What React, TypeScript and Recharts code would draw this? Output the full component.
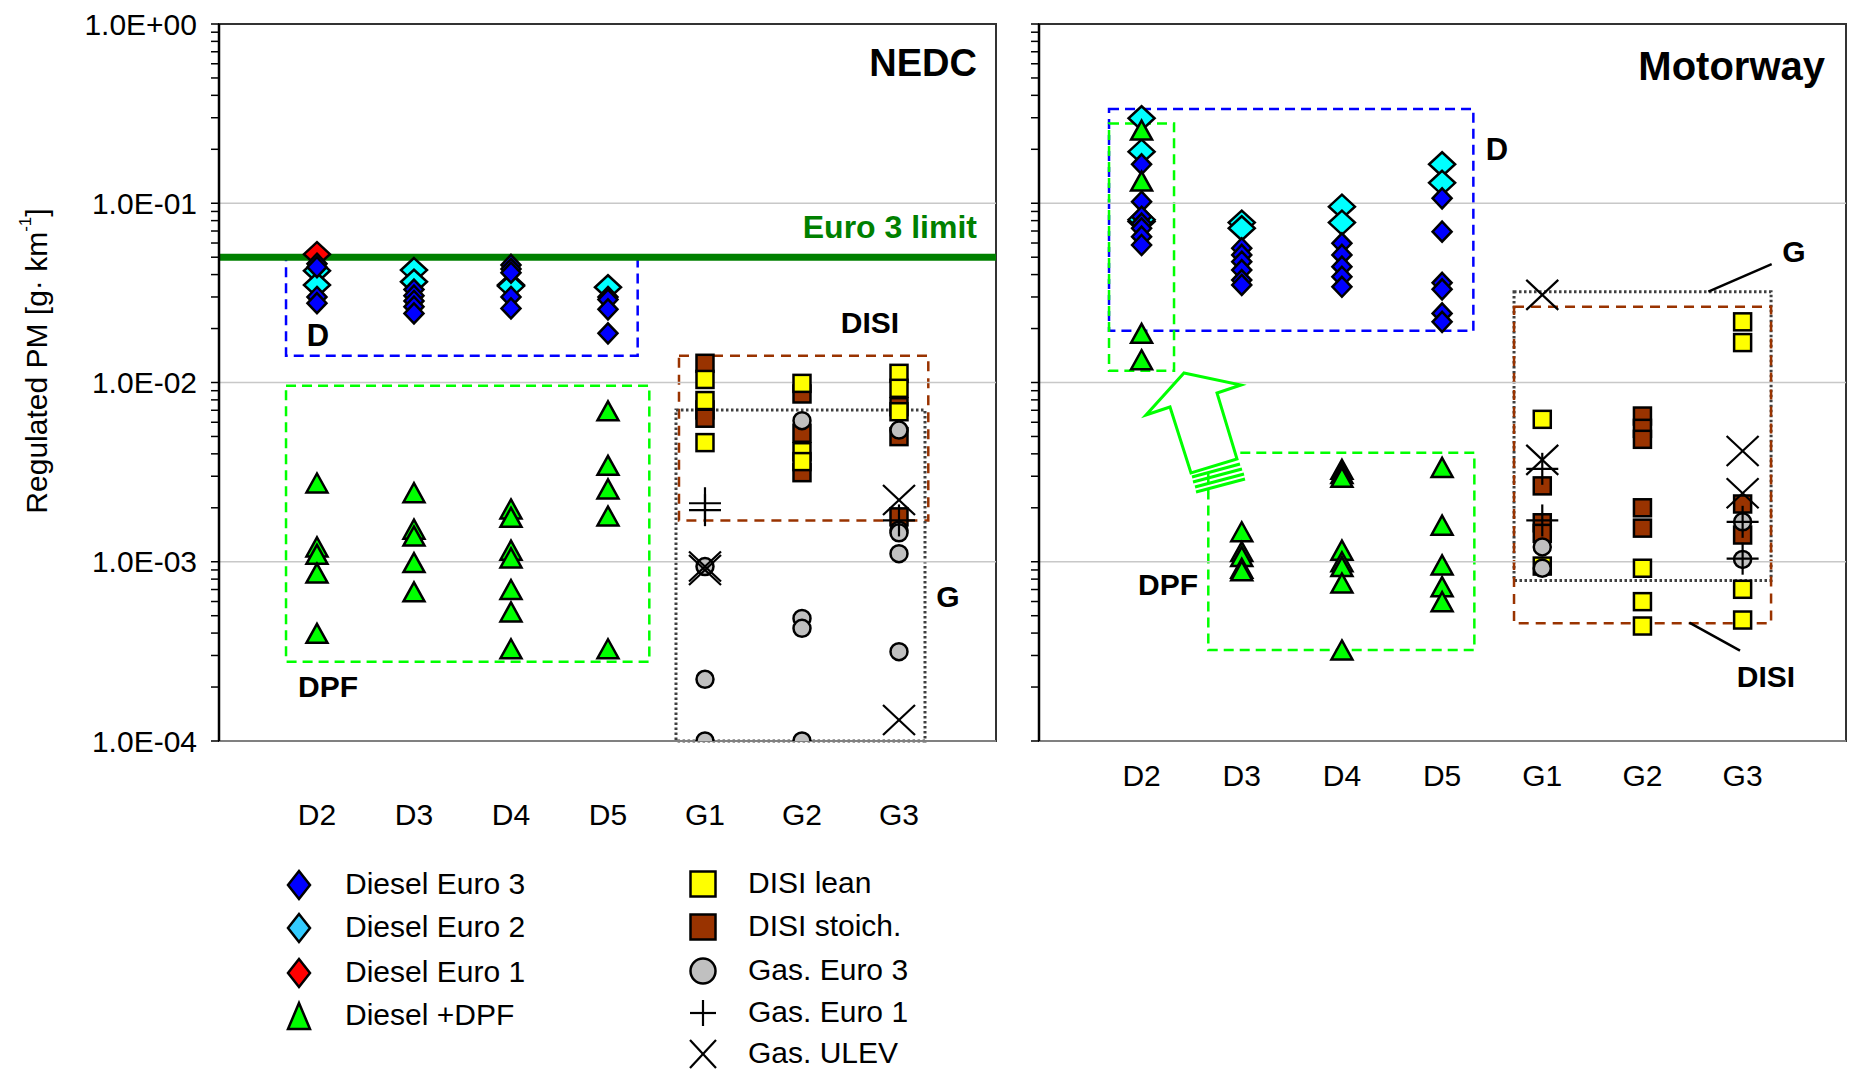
import React from 'react'
import { ScatterChart, Scatter, XAxis, YAxis, ReferenceArea, ReferenceLine } from 'recharts'

const FONT = "'Liberation Sans', Arial, Helvetica, sans-serif"

const categories = ['D2', 'D3', 'D4', 'D5', 'G1', 'G2', 'G3']
const decades = [1e-4, 1e-3, 1e-2, 1e-1, 1]
const decadeLabels = ['1.0E-04', '1.0E-03', '1.0E-02', '1.0E-01', '1.0E+00']
const euro3Limit = 0.05

type Series = Record<string, number[]>

// ---- NEDC ----
const nedcDieselEuro1: Series = { D2: [0.052] }
const nedcDieselEuro2: Series = {
  D2: [0.042, 0.035],
  D3: [0.0424, 0.0365],
  D4: [0.035, 0.0345],
  D5: [0.034],
}
const nedcDieselEuro3: Series = {
  D2: [0.046, 0.044, 0.03, 0.0277],
  D3: [0.033, 0.0305, 0.0285, 0.0265, 0.0243],
  D4: [0.0453, 0.043, 0.041, 0.03, 0.0259],
  D5: [0.03, 0.029, 0.0256, 0.0188],
}
const nedcDieselDpf: Series = {
  D2: [0.00275, 0.00121, 0.0011, 0.000865, 0.000399],
  D3: [0.00243, 0.00152, 0.00139, 0.00099, 0.00068],
  D4: [0.00197, 0.00177, 0.00116, 0.00105, 0.0007, 0.000525, 0.000327],
  D5: [0.00695, 0.00345, 0.00255, 0.0018, 0.000327],
}
const nedcDisiLean: Series = {
  G1: [0.0104, 0.00793, 0.00462],
  G2: [0.00989, 0.00411, 0.00362],
  G3: [0.01125, 0.00928, 0.00687],
}
const nedcDisiStoich: Series = {
  G1: [0.0128, 0.00703, 0.00632],
  G2: [0.00863, 0.00521, 0.00314],
  G3: [0.00733, 0.00499, 0.00178],
}
const nedcGasEuro3: Series = {
  G1: [0.00094, 0.000221, 0.0001],
  G2: [0.00612, 0.000483, 0.000425, 0.0001],
  G3: [0.00543, 0.0015, 0.00145, 0.00111, 0.000315],
}
const nedcGasEuro1: Series = { G1: [0.00212, 0.00194], G3: [0.0017] }
const nedcGasUlev: Series = { G1: [0.00094, 0.0009], G3: [0.00221, 0.000131] }

// ---- Motorway ----
const mwDieselEuro1: Series = { D2: [0.079] }
const mwDieselEuro2: Series = {
  D2: [0.298, 0.194, 0.081],
  D3: [0.078, 0.0725],
  D4: [0.0957, 0.078],
  D5: [0.165, 0.13],
}
const mwDieselEuro3: Series = {
  D2: [0.165, 0.102, 0.0841, 0.077, 0.0725, 0.0651, 0.0585],
  D3: [0.0561, 0.0515, 0.0472, 0.0424, 0.0373, 0.035],
  D4: [0.0598, 0.0515, 0.0443, 0.0389, 0.0342],
  D5: [0.1065, 0.0694, 0.036, 0.0331, 0.0243, 0.0218],
}
const mwDieselDpf: Series = {
  D2: [0.256, 0.133, 0.0188, 0.0134],
  D3: [0.00147, 0.00114, 0.00107, 0.00092, 0.00089],
  D4: [0.00328, 0.00311, 0.00296, 0.00116, 0.001, 0.00094, 0.00076, 0.000322],
  D5: [0.00336, 0.0016, 0.00096, 0.000726, 0.000599],
}
const mwDisiLean: Series = {
  G1: [0.00623, 0.000946],
  G2: [0.00092, 0.000599, 0.000438],
  G3: [0.0218, 0.0167, 0.000702, 0.000473],
}
const mwDisiStoich: Series = {
  G1: [0.00265, 0.00165, 0.00144],
  G2: [0.0065, 0.00555, 0.00482, 0.002, 0.00154],
  G3: [0.0021, 0.00141],
}
const mwGasEuro3: Series = { G1: [0.00121, 0.00092], G3: [0.00167, 0.00103] }
const mwGasEuro1: Series = { G1: [0.0033, 0.0017], G3: [0.00167, 0.00104] }
const mwGasUlev: Series = { G1: [0.0308, 0.0037], G3: [0.00415, 0.00241] }

// annotation boxes, in data units: [x1, x2, yTop, yBottom]
const nedcBoxes = {
  D: [0.681, 4.306, 0.05, 0.01412],
  DPF: [0.681, 4.426, 0.0096, 0.000277],
  DISI: [4.732, 7.302, 0.01412, 0.0017],
  G: [4.701, 7.268, 0.00703, 0.0001],
}
const mwBoxes = {
  D: [0.675, 4.312, 0.3357, 0.01945],
  D2dpf: [0.675, 1.324, 0.279, 0.01164],
  DPF: [1.666, 4.322, 0.00406, 0.000322],
  G: [4.718, 7.284, 0.0321, 0.000785],
  DISI: [4.718, 7.284, 0.0265, 0.000454],
}

const toPoints = (s: Series) =>
  Object.entries(s).flatMap(([cat, vals]) => vals.map((v) => ({ x: categories.indexOf(cat) + 1, y: v })))

const yTicks: number[] = [
  ...decades.slice(0, -1).flatMap((d) => [1, 2, 3, 4, 5, 6, 7, 8, 9].map((m) => +(m * d).toPrecision(3))),
  1,
]

const C = {
  blue: '#0000ff',
  cyan: '#00ffff',
  red: '#ff0000',
  green: '#00ff00',
  yellow: '#ffff00',
  brown: '#993300',
  gray: '#c0c0c0',
}

const SW = 2.5

const diamond = (fill: string, w: number, h: number) => (p: any) => {
  const { cx, cy } = p
  return (
    <polygon
      points={`${cx},${cy - h / 2} ${cx + w / 2},${cy} ${cx},${cy + h / 2} ${cx - w / 2},${cy}`}
      fill={fill}
      stroke="#000"
      strokeWidth={SW}
    />
  )
}
const triangle = (fill: string, w: number, h: number) => (p: any) => {
  const { cx, cy } = p
  return (
    <polygon
      points={`${cx},${cy - h / 2} ${cx + w / 2},${cy + h / 2} ${cx - w / 2},${cy + h / 2}`}
      fill={fill}
      stroke="#000"
      strokeWidth={SW}
    />
  )
}
const square = (fill: string, s: number) => (p: any) => (
  <rect x={p.cx - s / 2} y={p.cy - s / 2} width={s} height={s} fill={fill} stroke="#000" strokeWidth={SW} />
)
const circle = (fill: string, d: number) => (p: any) => (
  <circle cx={p.cx} cy={p.cy} r={d / 2} fill={fill} stroke="#000" strokeWidth={SW} />
)
const plus = (s: number) => (p: any) => (
  <g stroke="#000" strokeWidth={2.2}>
    <line x1={p.cx - s / 2} y1={p.cy} x2={p.cx + s / 2} y2={p.cy} />
    <line x1={p.cx} y1={p.cy - s / 2} x2={p.cx} y2={p.cy + s / 2} />
  </g>
)
const cross = (w: number, h: number) => (p: any) => (
  <g stroke="#000" strokeWidth={2.2}>
    <line x1={p.cx - w / 2} y1={p.cy - h / 2} x2={p.cx + w / 2} y2={p.cy + h / 2} />
    <line x1={p.cx - w / 2} y1={p.cy + h / 2} x2={p.cx + w / 2} y2={p.cy - h / 2} />
  </g>
)

const shapes = {
  euro1: diamond(C.red, 26, 24),
  euro2: diamond(C.cyan, 26, 24),
  euro3: diamond(C.blue, 19, 20),
  dpf: triangle(C.green, 21, 19),
  stoich: square(C.brown, 17),
  lean: square(C.yellow, 17),
  gas3: circle(C.gray, 17),
  gas1: plus(32),
  ulev: cross(32, 30),
}

const YTick = (props: any) => {
  const { x, y, payload } = props
  const i = decades.indexOf(payload.value)
  if (i < 0) return <g />
  return (
    <text x={x} y={y} textAnchor="end" dominantBaseline="central" fontSize={30} fontFamily={FONT} fill="#000">
      {decadeLabels[i]}
    </text>
  )
}

const makeXTick = (offset: number) => (props: any) => {
  const { x, y, payload } = props
  return (
    <text x={x} y={y + offset} textAnchor="middle" dominantBaseline="central" fontSize={30} fontFamily={FONT} fill="#000">
      {categories[payload.value - 1]}
    </text>
  )
}

type PanelProps = {
  series: Series[]
  boxes: Record<string, number[]>
  domain: [number, number]
  yAxisWidth: number
  width: number
  marginRight: number
  showYLabels: boolean
  xLabelOffset: number
  showLimit: boolean
  leaders?: { x: number; y: number }[][]
}

const boxStyle: Record<string, { stroke: string; dash: string }> = {
  D: { stroke: '#0000ff', dash: '10 6' },
  DPF: { stroke: '#00ff00', dash: '10 6' },
  D2dpf: { stroke: '#00ff00', dash: '10 6' },
  DISI: { stroke: '#993300', dash: '10 7' },
  G: { stroke: '#404040', dash: '2.5 2.5' },
}

function Panel({ series, boxes, domain, yAxisWidth, width, marginRight, showYLabels, xLabelOffset, showLimit, leaders }: PanelProps) {
  const order = ['euro1', 'euro2', 'euro3', 'dpf', 'stoich', 'lean', 'gas3', 'gas1', 'ulev'] as const
  return (
    <ScatterChart width={width} height={860} margin={{ top: 24, right: marginRight, bottom: 0, left: 0 }}>
      <XAxis
        type="number"
        dataKey="x"
        domain={domain}
        ticks={[1, 2, 3, 4, 5, 6, 7]}
        allowDataOverflow
        height={119}
        tickLine={false}
        tickSize={0}
        tickMargin={0}
        axisLine={{ stroke: '#808080', strokeWidth: 2 }}
        tick={makeXTick(xLabelOffset)}
        interval={0}
      />
      <YAxis
        type="number"
        dataKey="y"
        scale="log"
        domain={[1e-4, 1]}
        allowDataOverflow
        ticks={yTicks}
        interval={0}
        width={yAxisWidth}
        tickSize={8}
        tickMargin={14}
        tickLine={{ stroke: '#000', strokeWidth: 1.5 }}
        axisLine={{ stroke: '#000', strokeWidth: 2.5 }}
        tick={showYLabels ? YTick : () => <g />}
      />
      {decades.slice(1, -1).map((d) => (
        <ReferenceLine key={d} y={d} stroke="#c8c8c8" strokeWidth={1.5} />
      ))}
      <ReferenceArea
        x1={domain[0]}
        x2={domain[1]}
        y1={1e-4}
        y2={1}
        fill="none"
        stroke="#333"
        strokeWidth={2}
        ifOverflow="visible"
      />
      {showLimit && <ReferenceLine y={euro3Limit} stroke="#008000" strokeWidth={7} />}
      {Object.entries(boxes).map(([k, b]) => (
        <ReferenceArea
          key={k}
          x1={b[0]}
          x2={b[1]}
          y1={b[3]}
          y2={b[2]}
          fill="none"
          fillOpacity={0}
          stroke={boxStyle[k].stroke}
          strokeDasharray={boxStyle[k].dash}
          strokeWidth={k === 'G' ? 3 : 2.5}
          ifOverflow="visible"
        />
      ))}
      {(leaders || []).map((seg, i) => (
        <ReferenceLine key={'l' + i} segment={seg} stroke="#000" strokeWidth={2.5} ifOverflow="visible" />
      ))}
      {order.map((k, i) => (
        <Scatter key={k} data={toPoints(series[i])} shape={shapes[k]} isAnimationActive={false} />
      ))}
    </ScatterChart>
  )
}

const textLabels = [
  { t: 'NEDC', x: 977, y: 76, s: 38, a: 'end', c: '#000' },
  { t: 'Euro 3 limit', x: 977, y: 238, s: 32, a: 'end', c: '#008000' },
  { t: 'D', x: 318, y: 346, s: 31, a: 'middle', c: '#000' },
  { t: 'DPF', x: 328, y: 697, s: 30, a: 'middle', c: '#000' },
  { t: 'DISI', x: 870, y: 333, s: 30, a: 'middle', c: '#000' },
  { t: 'G', x: 948, y: 607, s: 30, a: 'middle', c: '#000' },
  { t: 'Motorway', x: 1825, y: 80, s: 40, a: 'end', c: '#000' },
  { t: 'D', x: 1497, y: 160, s: 31, a: 'middle', c: '#000' },
  { t: 'G', x: 1794, y: 262, s: 30, a: 'middle', c: '#000' },
  { t: 'DISI', x: 1766, y: 687, s: 30, a: 'middle', c: '#000' },
  { t: 'DPF', x: 1168, y: 595, s: 30, a: 'middle', c: '#000' },
]

const legendLeft = [
  { name: 'Diesel Euro 3', shape: diamond(C.blue, 22, 28) },
  { name: 'Diesel Euro 2', shape: diamond('#33ccff', 22, 28) },
  { name: 'Diesel Euro 1', shape: diamond(C.red, 22, 28) },
  { name: 'Diesel +DPF', shape: triangle(C.green, 22, 26) },
]
const legendRight = [
  { name: 'DISI lean', shape: square(C.yellow, 25) },
  { name: 'DISI stoich.', shape: square(C.brown, 25) },
  { name: 'Gas. Euro 3', shape: circle(C.gray, 25) },
  { name: 'Gas. Euro 1', shape: plus(26) },
  { name: 'Gas. ULEV', shape: cross(26, 28) },
]
const legendLeftRows = [885, 928, 973, 1016]
const legendRightRows = [884, 927, 971, 1013, 1054]

function Overlay() {
  return (
    <svg width={1855} height={1069} style={{ position: 'absolute', left: 0, top: 0, pointerEvents: 'none' }}>
      <text
        transform="translate(36,361) rotate(-90)"
        textAnchor="middle"
        dominantBaseline="central"
        fontSize={30}
        fontFamily={FONT}
        fill="#000"
      >
        Regulated PM [g· km
        <tspan fontSize={17} dy={-11}>
          -1
        </tspan>
        <tspan dy={11}>]</tspan>
      </text>
      {textLabels.map((l, i) => (
        <text
          key={i}
          x={l.x}
          y={l.y}
          textAnchor={l.a as any}
          fontSize={l.s}
          fontWeight="bold"
          fontFamily={FONT}
          fill={l.c}
        >
          {l.t}
        </text>
      ))}
      <g stroke="#00ff00" strokeWidth={3} fill="#fff" strokeLinejoin="miter">
        <polygon points="1184,373 1241,385 1217,393 1237,459 1191,473 1170,407 1146,415" />
        <line x1={1192} y1={477} x2={1240} y2={464} />
        <line x1={1193} y1={482} x2={1242} y2={469} />
        <line x1={1195} y1={487} x2={1244} y2={474} />
        <line x1={1196} y1={492} x2={1245} y2={479} />
      </g>
      {legendLeft.map((l, i) => (
        <g key={l.name}>
          {l.shape({ cx: 299, cy: legendLeftRows[i] })}
          <text x={345} y={legendLeftRows[i] - 2} dominantBaseline="central" fontSize={30} fontFamily={FONT} fill="#000">
            {l.name}
          </text>
        </g>
      ))}
      {legendRight.map((l, i) => (
        <g key={l.name}>
          {l.shape({ cx: 703, cy: legendRightRows[i] })}
          <text x={748} y={legendRightRows[i] - 2} dominantBaseline="central" fontSize={30} fontFamily={FONT} fill="#000">
            {l.name}
          </text>
        </g>
      ))}
    </svg>
  )
}

export default function App() {
  const nedc = [
    nedcDieselEuro1, nedcDieselEuro2, nedcDieselEuro3, nedcDieselDpf,
    nedcDisiStoich, nedcDisiLean, nedcGasEuro3, nedcGasEuro1, nedcGasUlev,
  ]
  const mw = [
    mwDieselEuro1, mwDieselEuro2, mwDieselEuro3, mwDieselDpf,
    mwDisiStoich, mwDisiLean, mwGasEuro3, mwGasEuro1, mwGasUlev,
  ]
  return (
    <div style={{ position: 'absolute', left: 0, top: 0, width: 1855, height: 1069, background: '#fff', fontFamily: FONT }}>
      <div style={{ position: 'absolute', left: 0, top: 0 }}>
        <Panel
          series={nedc}
          boxes={nedcBoxes}
          domain={[-0.01, 8.0]}
          yAxisWidth={219}
          width={1000}
          marginRight={4}
          showYLabels
          xLabelOffset={73}
          showLimit
        />
      </div>
      <div style={{ position: 'absolute', left: 1000, top: 0 }}>
        <Panel
          series={mw}
          boxes={mwBoxes}
          domain={[-0.024, 8.032]}
          yAxisWidth={39}
          width={855}
          marginRight={9}
          showYLabels={false}
          xLabelOffset={34}
          showLimit={false}
          leaders={[
            [{ x: 7.29, y: 0.0458 }, { x: 6.658, y: 0.0321 }],
            [{ x: 6.468, y: 0.000457 }, { x: 6.974, y: 0.000319 }],
          ]}
        />
      </div>
      <Overlay />
    </div>
  )
}
